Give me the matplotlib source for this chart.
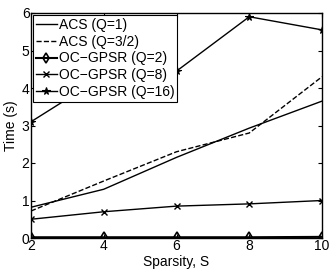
import matplotlib
matplotlib.use('Agg')
import matplotlib.pyplot as plt

plt.rcParams['font.family'] = ['Liberation Sans', 'DejaVu Sans']

sparsity = [2, 4, 6, 8, 10]
acs_q1 = [0.82, 1.3, 2.15, 2.93, 3.65]
acs_q32 = [0.72, 1.52, 2.3, 2.8, 4.3]
gpsr_q2 = [0.02, 0.02, 0.02, 0.02, 0.03]
gpsr_q8 = [0.5, 0.7, 0.85, 0.91, 1.0]
gpsr_q16 = [3.1, 4.32, 4.45, 5.9, 5.55]

xticks = [2, 4, 6, 8, 10]
yticks = [0, 1, 2, 3, 4, 5, 6]

fig = plt.figure(figsize=(3.32, 2.71), dpi=100)
ax = fig.add_axes([31/332, 1-238/271, 291/332, 225/271])

ax.plot(sparsity, acs_q1, 'k-', lw=1.0, label='ACS (Q=1)')
ax.plot(sparsity, acs_q32, 'k--', lw=1.0, label='ACS (Q=3/2)')
ax.plot(sparsity, gpsr_q2, 'k-', lw=1.5, marker='d', ms=5.5, mfc='none', mew=1.2, label='OC\u2212GPSR (Q=2)')
ax.plot(sparsity, gpsr_q8, 'k-', lw=1.0, marker='x', ms=4, mew=1.0, label='OC\u2212GPSR (Q=8)')
ax.plot(sparsity, gpsr_q16, 'k-', lw=1.0, marker='*', ms=5.5, mew=0.8, label='OC\u2212GPSR (Q=16)')

ax.set_xlim(2, 10)
ax.set_ylim(0, 6)
ax.set_xticks(xticks)
ax.set_yticks(yticks)
ax.tick_params(direction='in', top=True, right=True, labelsize=10, length=3, pad=1)
for s in ax.spines.values():
    s.set_linewidth(1.0)

ax.set_xlabel('Sparsity, S', fontsize=10, labelpad=1)
ax.set_ylabel('Time (s)', fontsize=10, labelpad=3)

leg = ax.legend(loc='upper left', fontsize=10, handlelength=1.5, handletextpad=0.15,
                borderpad=0.2, labelspacing=0.2, borderaxespad=0.15, fancybox=False,
                edgecolor='black', framealpha=1)
leg.get_frame().set_linewidth(0.8)

fig.savefig('out.png', dpi=100)
